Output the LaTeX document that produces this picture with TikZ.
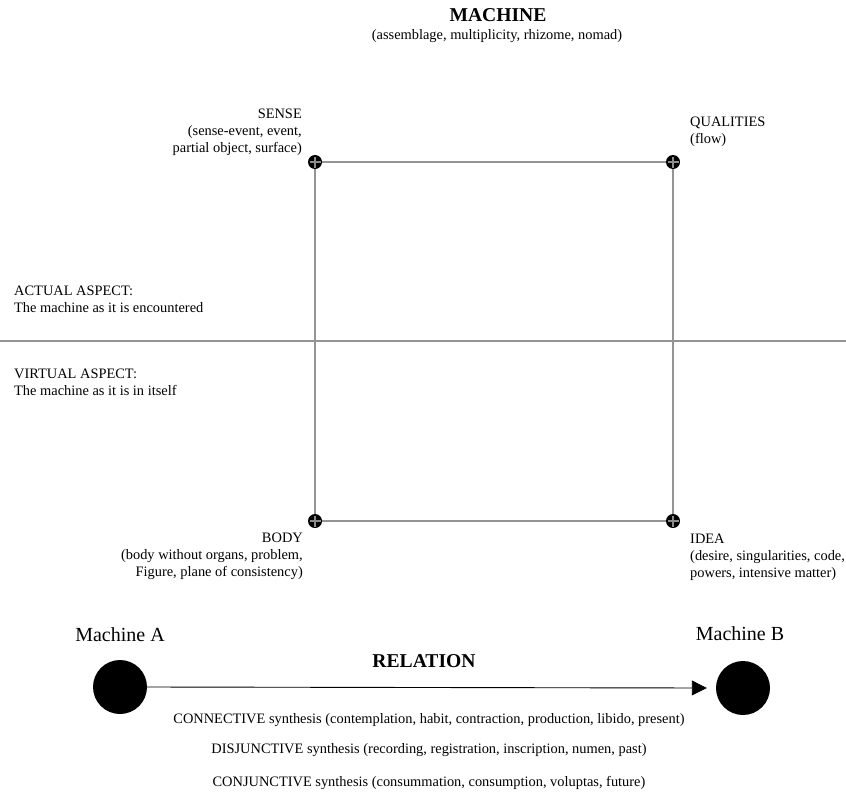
\documentclass[tikz,border=0pt]{standalone}
\usepackage{fontspec}
\setmainfont{Liberation Serif}
\usetikzlibrary{arrows.meta}
\begin{document}
\begin{tikzpicture}[x=1pt,y=-1pt,
  lbl/.style={font=\fontsize{14.4}{17}\selectfont, inner sep=0pt},
  grayline/.style={draw=black!42, line width=2.4pt},
  corner/.style={circle, fill=black, minimum size=14pt, inner sep=0pt},
  machine/.style={circle, fill=black, minimum size=54pt, inner sep=0pt},
  mlabel/.style={font=\fontsize{20}{23}\selectfont, inner sep=0pt},
  title/.style={font=\fontsize{19.6}{22}\selectfont\bfseries, inner sep=0pt}]
\useasboundingbox (0,0) rectangle (846,795);
% title
\node[title] (ttl) at (498,15) {MACHINE};
\node[lbl] (sub) at (497,36) {(assemblage, multiplicity, rhizome, nomad)};
% corners
\coordinate (S) at (315,162);
\coordinate (Q) at (673,162);
\coordinate (B) at (315,521);
\coordinate (I) at (673,521);
\coordinate (hl) at (0,341);
\coordinate (hr) at (846,341);
\draw[grayline] (S) -- (Q) -- (I) -- (B) -- cycle;
\draw[grayline] (hl) -- (hr);
\foreach \c in {S,Q,B,I}{
  \node[corner] (c\c) at (\c) {};
  \draw[black!45, line width=1.4pt] ([xshift=-5.5pt]\c) -- ([xshift=5.5pt]\c);
  \draw[black!45, line width=1.4pt] ([yshift=-5.5pt]\c) -- ([yshift=5.5pt]\c);
}
% corner labels
\node[lbl, align=right, anchor=north east] (sense) at (302,109) {SENSE\\(sense-event, event,\\partial object, surface)};
\node[lbl, align=left, anchor=north west] (qual) at (690,117) {QUALITIES\\(flow)};
\node[lbl, align=right, anchor=north east] (body) at (303,533) {BODY\\(body without organs, problem,\\Figure, plane of consistency)};
\node[lbl, align=left, anchor=north west] (idea) at (690,534) {IDEA\\(desire, singularities, code,\\powers, intensive matter)};
% aspects
\node[lbl, align=left, anchor=north west] (act) at (14,286) {ACTUAL ASPECT:\\The machine as it is encountered};
\node[lbl, align=left, anchor=north west] (virt) at (14,369) {VIRTUAL ASPECT:\\The machine as it is in itself};
% machines
\node[mlabel] (mA) at (120,635) {Machine A};
\node[mlabel] (mB) at (740,634) {Machine B};
\node[machine] (A) at (120,687) {};
\node[machine] (Bm) at (743,688) {};
\node[title] (rel) at (424,661) {RELATION};
\draw[black, line width=0.9pt, -{Triangle[length=15pt,width=15pt]}] (A.east) -- ([xshift=-9pt]Bm.west);
% syntheses
\node[lbl] (con) at (429,720) {CONNECTIVE synthesis (contemplation, habit, contraction, production, libido, present)};
\node[lbl] (dis) at (429,750) {DISJUNCTIVE synthesis (recording, registration, inscription, numen, past)};
\node[lbl] (conj) at (429,783) {CONJUNCTIVE synthesis (consummation, consumption, voluptas, future)};
\end{tikzpicture}
\end{document}
